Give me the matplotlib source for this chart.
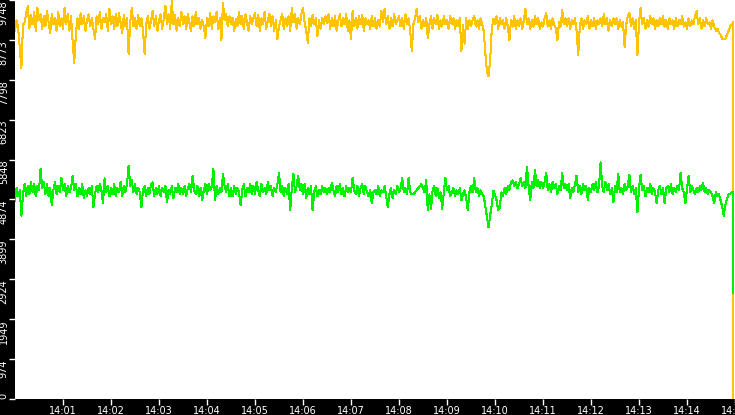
import numpy as np
from matplotlib import pyplot as plt

# Sample times in seconds after 14:00:00 (one sample every 2 s); the last reading
# drops at the same instant as the final regular sample
sample_seconds = list(range(0, 900, 2)) + [898]

# Upper series (yellow), 15 samples (30 s) per row
yellow_values = [
    8990, 9250, 9050, 8580, 8090, 9150, 9200, 9420, 9600, 9050, 9380, 9150, 9450, 9000, 9550,
    9250, 9400, 9050, 9350, 9100, 9480, 9200, 8950, 9400, 9150, 9320, 9000, 9450, 9100, 9300,
    9050, 9560, 9150, 9400, 9000, 9350, 8750, 8210, 8870, 9300, 9050, 9420, 9150, 9350, 9000,
    9250, 9400, 9100, 9300, 9050, 8800, 9350, 9150, 9450, 9050, 9300, 9200, 9400, 9000, 9530,
    9150, 9350, 9050, 9400, 9100, 9420, 9200, 8950, 9380, 9100, 9300, 8430, 9200, 9550, 9100,
    9300, 9050, 9380, 9100, 9300, 9000, 8430, 9150, 9350, 9050, 9250, 9480, 9100, 9350, 9000,
    9250, 9400, 9050, 9300, 9600, 9150, 9400, 9050, 9720, 9150, 9380, 9000, 9300, 9100, 9450,
    9150, 9350, 9050, 9400, 9200, 9000, 9350, 9100, 9450, 9150, 9300, 9050, 9250, 9100, 8820,
    9300, 9100, 9420, 9050, 9350, 9200, 9450, 9050, 9300, 8770, 9680, 9250, 9400, 9100, 9350,
    9150, 9320, 9000, 9280, 9100, 9450, 9150, 9350, 9050, 9400, 9200, 9000, 9350, 9150, 9300,
    9420, 9100, 9380, 9000, 9300, 9150, 9450, 9050, 9250, 9400, 9100, 9350, 9000, 9250, 8790,
    9100, 9250, 9400, 9050, 9300, 9100, 9350, 9000, 9550, 9200, 9400, 9050, 9300, 9150, 9400,
    9550, 9200, 9000, 8700, 9300, 9100, 9380, 9150, 9300, 8870, 9250, 9050, 9320, 9150, 9350,
    9180, 9400, 9050, 9300, 9100, 9350, 9000, 9250, 9400, 9100, 9300, 9150, 9400, 9000, 9250,
    8790, 9480, 9100, 9300, 9050, 9350, 9150, 9380, 9000, 9300, 9150, 9250, 9050, 9350, 9100,
    9300, 9050, 9250, 9100, 9480, 9200, 9530, 9150, 9350, 9050, 9300, 9100, 9400, 9150, 9250,
    9350, 9100, 9300, 9050, 9400, 9150, 9300, 9000, 8500, 9150, 9300, 9530, 9200, 9350, 9050,
    9250, 9100, 9300, 8820, 9150, 9350, 9050, 9300, 9150, 9380, 9050, 9250, 9100, 9350, 9150,
    9250, 9050, 9350, 9150, 9300, 9050, 9250, 9100, 9300, 8500, 9150, 8680, 9300, 9050, 9250,
    9100, 9250, 9360, 9100, 9250, 9050, 9300, 9150, 8980, 8430, 7990, 7880, 8300, 9050, 9290,
    9150, 9350, 9050, 9300, 9150, 9250, 9050, 9300, 9100, 8770, 9250, 9100, 9350, 9050, 9250,
    9100, 9300, 9050, 9250, 9530, 9150, 9300, 9050, 9250, 9100, 9350, 9150, 9300, 9050, 9200,
    9100, 9300, 9430, 9100, 9250, 9050, 9300, 9150, 9050, 8770, 9200, 9100, 9500, 9150, 9300,
    9100, 9300, 9050, 9250, 9150, 9300, 9000, 8400, 9100, 9300, 9050, 9250, 9150, 9350, 9050,
    9250, 9100, 9300, 9050, 9250, 9150, 9300, 9100, 9410, 9150, 9300, 9000, 9250, 9100, 9300,
    9150, 9300, 9050, 9250, 9100, 9200, 8600, 9150, 9350, 9430, 9100, 9300, 9050, 9250, 8400,
    9200, 9550, 9150, 9300, 9050, 9250, 9100, 9350, 9150, 9300, 9050, 9250, 9100, 9300, 9150,
    9350, 9100, 9250, 9050, 9300, 9150, 9250, 9050, 9300, 9100, 9250, 9150, 9350, 9100, 9200,
    9050, 9300, 9100, 9250, 9150, 9350, 9480, 9150, 9300, 9050, 9250, 9100, 9300, 9150, 9200,
    9050, 9250, 9100, 9000, 9050, 8950, 8900, 8800, 8800, 8800, 8900, 9000, 9100, 9150, 9220,
    0,
]

# Lower series (green), 15 samples (30 s) per row
green_values = [
    4850, 5150, 4950, 5100, 4480, 5000, 5250, 4950, 5200, 5000, 5300, 5050, 5250, 4950, 5200,
    5100, 5630, 5150, 5300, 5000, 5250, 4950, 5150, 4730, 5100, 5300, 5000, 5200, 5050, 5410,
    5100, 5250, 4950, 5200, 5050, 5150, 5460, 5100, 5250, 4950, 5150, 5000, 5250, 4900, 5100,
    4950, 5150, 5000, 5200, 4680, 5000, 5200, 5050, 5250, 5100, 4780, 5390, 5050, 5200, 4950,
    5150, 5000, 5250, 4950, 5150, 5050, 5300, 4950, 5200, 5050, 5250, 5700, 5200, 5350, 5050,
    5250, 5000, 5150, 5050, 4680, 5100, 5200, 4950, 5150, 5000, 5250, 5290, 4950, 5150, 5000,
    5200, 4950, 5150, 5050, 5200, 4800, 5100, 5000, 5200, 4900, 5150, 5050, 5250, 5000, 5150,
    5000, 5200, 4950, 5150, 5250, 5050, 5460, 5100, 5000, 5200, 4950, 5150, 4850, 5100, 5250,
    5000, 5250, 5100, 5200, 5630, 4850, 5200, 5000, 5150, 5050, 5510, 5200, 5050, 5250, 4950,
    5150, 4950, 5200, 5000, 5150, 5050, 4730, 5100, 5250, 4950, 5150, 5050, 5250, 5000, 5200,
    5000, 5300, 5100, 4950, 5250, 5050, 5150, 5000, 5300, 5100, 5200, 4950, 5150, 5050, 5250,
    5530, 5050, 5200, 4950, 5150, 5000, 5250, 4610, 5150, 5510, 5050, 5200, 5460, 5100, 5250,
    5000, 5250, 4900, 5150, 5000, 5200, 4610, 5050, 5200, 4950, 5100, 5000, 5200, 5050, 5150,
    5000, 5150, 5050, 5290, 5100, 4950, 5200, 5050, 5250, 5000, 5150, 4950, 5200, 5050, 5150,
    5050, 5410, 5100, 5000, 5200, 4950, 5150, 5250, 5000, 5200, 5050, 4950, 5100, 4780, 5050,
    5100, 5000, 5200, 4950, 5100, 5050, 5200, 4950, 4680, 5000, 5150, 4900, 5100, 5000, 5200,
    5050, 5150, 5390, 5050, 5150, 5000, 5410, 5050, 5000, 5000, 5050, 5100, 5150, 5200, 5250,
    5150, 5050, 5340, 4610, 5000, 4650, 5100, 5200, 4950, 5150, 4900, 5050, 4650, 5050, 5410,
    5100, 5200, 4950, 5050, 5150, 4950, 5100, 5000, 5150, 4850, 5000, 5100, 4900, 4610, 5050,
    5200, 5050, 5390, 5050, 5150, 4950, 5100, 5000, 4950, 4700, 4450, 4190, 4500, 4750, 5090,
    5000, 4850, 4610, 4680, 5050, 4950, 5150, 5000, 5200, 5100, 5300, 5340, 5200, 5300, 5150,
    5250, 5400, 5200, 5300, 5150, 5680, 5200, 4850, 5300, 5150, 5600, 5200, 5350, 5150, 5300,
    5150, 5300, 5530, 5100, 5250, 5050, 5300, 5150, 5250, 5000, 5200, 5100, 5530, 5150, 5250,
    5100, 5250, 4900, 5150, 5050, 5250, 5460, 5050, 5200, 5000, 5250, 5100, 5200, 4870, 5150,
    5050, 5250, 5100, 5300, 5050, 5200, 5780, 5200, 5050, 5300, 5100, 5250, 5000, 5150, 4800,
    5200, 5050, 5510, 5050, 5150, 5000, 5250, 5100, 5200, 5480, 5050, 5200, 5000, 5150, 4560,
    5150, 5480, 5100, 5200, 4950, 5150, 5050, 5250, 5000, 5150, 5050, 4780, 5100, 5200, 5000,
    5150, 4780, 5150, 5200, 5050, 5250, 5000, 5150, 5050, 5200, 5100, 5530, 5150, 5050, 4780,
    5150, 5460, 5050, 5200, 5100, 5000, 5150, 5050, 5200, 5100, 5290, 5050, 5150, 5000, 5100,
    5050, 4950, 4780, 5050, 4950, 5000, 4850, 4700, 4480, 4750, 4900, 5000, 5020, 5050, 5050,
    2600,
]

# Axis ticks
y_max = 9748
y_tick_values = [0, 974.8, 1949.6, 2924.4, 3899.2, 4874, 5848.8, 6823.6, 7798.4, 8773.2, 9748]
y_tick_labels = ['0', '974', '1949', '2924', '3899', '4874', '5848', '6823', '7798', '8773', '9748']
x_tick_seconds = [60 * m for m in range(1, 16)]
x_tick_labels = ['14:%02d' % m for m in range(1, 16)]

YELLOW = '#FFC300'
GREEN = '#00F000'

fig = plt.figure(figsize=(7.35, 4.15), dpi=100, facecolor='black')
ax = fig.add_axes([15 / 735, 16 / 415, 720 / 735, 399 / 415])
ax.set_facecolor('white')

ax.plot(sample_seconds, yellow_values, color=YELLOW, linewidth=0.75, antialiased=False)
ax.plot(sample_seconds, green_values, color=GREEN, linewidth=0.75, antialiased=False)

ax.set_xlim(0, 900)
ax.set_ylim(0, y_max)

for side in ['top', 'right', 'bottom', 'left']:
    ax.spines[side].set_visible(False)

ax.set_xticks(x_tick_seconds, x_tick_labels)
ax.set_yticks(y_tick_values, y_tick_labels, rotation=90, va='top')
ax.get_yticklabels()[0].set_va('bottom')

ax.tick_params(axis='both', colors='white', labelcolor='white', labelsize=7,
               length=4, width=1, direction='out')
ax.tick_params(axis='x', pad=1)
ax.tick_params(axis='y', pad=0.5)

plt.savefig('out.png', dpi=100, facecolor='black')
